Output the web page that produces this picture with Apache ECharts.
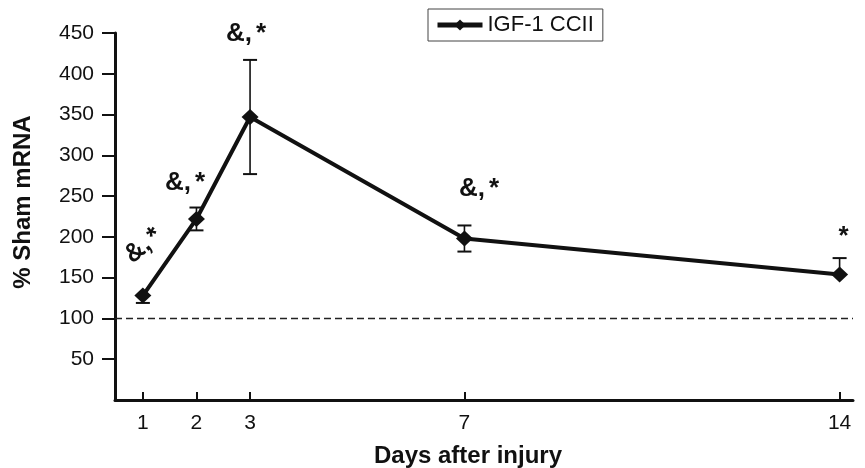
<!DOCTYPE html>
<html>
<head>
<meta charset="utf-8">
<script src="https://cdn.jsdelivr.net/npm/echarts@6/dist/echarts.min.js"></script>
<style>
  html, body { margin: 0; padding: 0; background: #fff; }
  #chart { width: 865px; height: 468px; }
</style>
</head>
<body>
<div id="chart"></div>
<script>
// Days after injury and IGF-1 mRNA expressed as % of sham
const days = [1, 2, 3, 7, 14];
const shamPct = [128, 222, 347, 198, 154];
const errPlus = [0, 14, 70, 16, 20];
const errMinus = [9, 14, 70, 16, 0];
const sigMarks = ['&,*', '&,*', '&,*', '&,*', '*'];
const yTicks = [50, 100, 150, 200, 250, 300, 350, 400, 450];
const seriesName = 'IGF-1 CCII';
const shamLevel = 100;

// placement of the significance marks relative to each point (px) and their tilt (deg)
const markOffset = [[0.5, -50], [-11.5, -36], [-4, -83], [14.5, -50], [4, -38]];
const markTilt = [40, 0, 0, 0, 0];

const FONT = '"Liberation Sans", Arial, Helvetica, sans-serif';
const INK = '#111';

const points = days.map((d, i) => [d, shamPct[i]]);

const chart = echarts.init(document.getElementById('chart'), null, { renderer: 'canvas' });

chart.setOption({
  animation: false,
  backgroundColor: '#fff',
  grid: { left: 115, right: 12, top: 33, bottom: 68, containLabel: false },
  legend: {
    data: [seriesName],
    left: 428,
    top: 9,
    padding: [5, 9, 5, 7],
    borderColor: '#444',
    borderWidth: 1,
    itemWidth: 45,
    itemHeight: 14,
    lineStyle: { width: 5, color: INK },
    textStyle: { fontSize: 22, fontFamily: FONT, color: INK }
  },
  xAxis: {
    type: 'value',
    min: 0.48,
    max: 14.25,
    splitLine: { show: false },
    axisLine: { onZero: false, lineStyle: { color: INK, width: 3 } },
    axisTick: { inside: true, length: 8, lineStyle: { color: INK, width: 2 }, customValues: days },
    axisLabel: { fontSize: 21, fontFamily: FONT, color: INK, margin: 13, customValues: days }
  },
  yAxis: {
    type: 'value',
    min: 0,
    max: 450,
    interval: 50,
    splitLine: { show: false },
    axisLine: { show: true, lineStyle: { color: INK, width: 3 } },
    axisTick: { show: true, length: 13, lineStyle: { color: INK, width: 2 }, customValues: yTicks },
    axisLabel: { fontSize: 21, fontFamily: FONT, color: INK, margin: 21, customValues: yTicks }
  },
  graphic: [
    {
      type: 'text', x: 23, y: 202, rotation: Math.PI / 2,
      style: { text: '% Sham mRNA', align: 'center', verticalAlign: 'middle', fill: INK,
               fontSize: 24, fontWeight: 'bold', fontFamily: FONT }
    },
    {
      type: 'text', x: 468, y: 456,
      style: { text: 'Days after injury', align: 'center', verticalAlign: 'middle', fill: INK,
               fontSize: 24, fontWeight: 'bold', fontFamily: FONT }
    }
  ],
  series: [
    {
      // error bars (SEM)
      type: 'custom',
      name: 'sem',
      silent: true,
      z: 1,
      data: days.map((d, i) => [d, shamPct[i], errPlus[i], errMinus[i]]),
      encode: { x: 0, y: 1 },
      renderItem(params, api) {
        const x = api.value(0), v = api.value(1), up = api.value(2), dn = api.value(3);
        const top = api.coord([x, v + up]);
        const bot = api.coord([x, v - dn]);
        const hw = 7;
        const children = [{
          type: 'line',
          shape: { x1: top[0], y1: top[1], x2: bot[0], y2: bot[1] },
          style: { stroke: INK, lineWidth: 1.6 }
        }];
        if (up > 0) children.push({
          type: 'line',
          shape: { x1: top[0] - hw, y1: top[1], x2: top[0] + hw, y2: top[1] },
          style: { stroke: INK, lineWidth: 2 }
        });
        if (dn > 0) children.push({
          type: 'line',
          shape: { x1: bot[0] - hw, y1: bot[1], x2: bot[0] + hw, y2: bot[1] },
          style: { stroke: INK, lineWidth: 2 }
        });
        return { type: 'group', children };
      }
    },
    {
      type: 'line',
      name: seriesName,
      data: points,
      z: 3,
      symbol: 'diamond',
      symbolSize: [17, 16],
      lineStyle: { color: INK, width: 4 },
      itemStyle: { color: INK },
      markLine: {
        silent: true,
        symbol: 'none',
        label: { show: false },
        lineStyle: { type: [7, 4], color: '#222', width: 1.3 },
        data: [{ yAxis: shamLevel }]
      }
    },
    {
      // significance marks above each time point
      type: 'custom',
      name: 'sig',
      silent: true,
      z: 4,
      data: points,
      encode: { x: 0, y: 1 },
      renderItem(params, api) {
        const i = params.dataIndex;
        const p = api.coord([api.value(0), api.value(1)]);
        const t = sigMarks[i];
        const text = t.length > 1 ? '{a|' + t.slice(0, -1) + '}{s|' + t.slice(-1) + '}' : '{a|' + t + '}';
        return {
          type: 'text',
          x: p[0] + markOffset[i][0],
          y: p[1] + markOffset[i][1],
          rotation: markTilt[i] * Math.PI / 180,
          style: {
            text,
            align: 'center',
            verticalAlign: 'middle',
            fill: INK,
            rich: {
              a: { fontSize: 26, fontWeight: 'bold', fontFamily: FONT, fill: INK },
              s: { fontSize: 26, fontWeight: 'bold', fontFamily: FONT, fill: INK, padding: [0, 0, 0, 4] }
            }
          }
        };
      }
    }
  ]
});
</script>
</body>
</html>
